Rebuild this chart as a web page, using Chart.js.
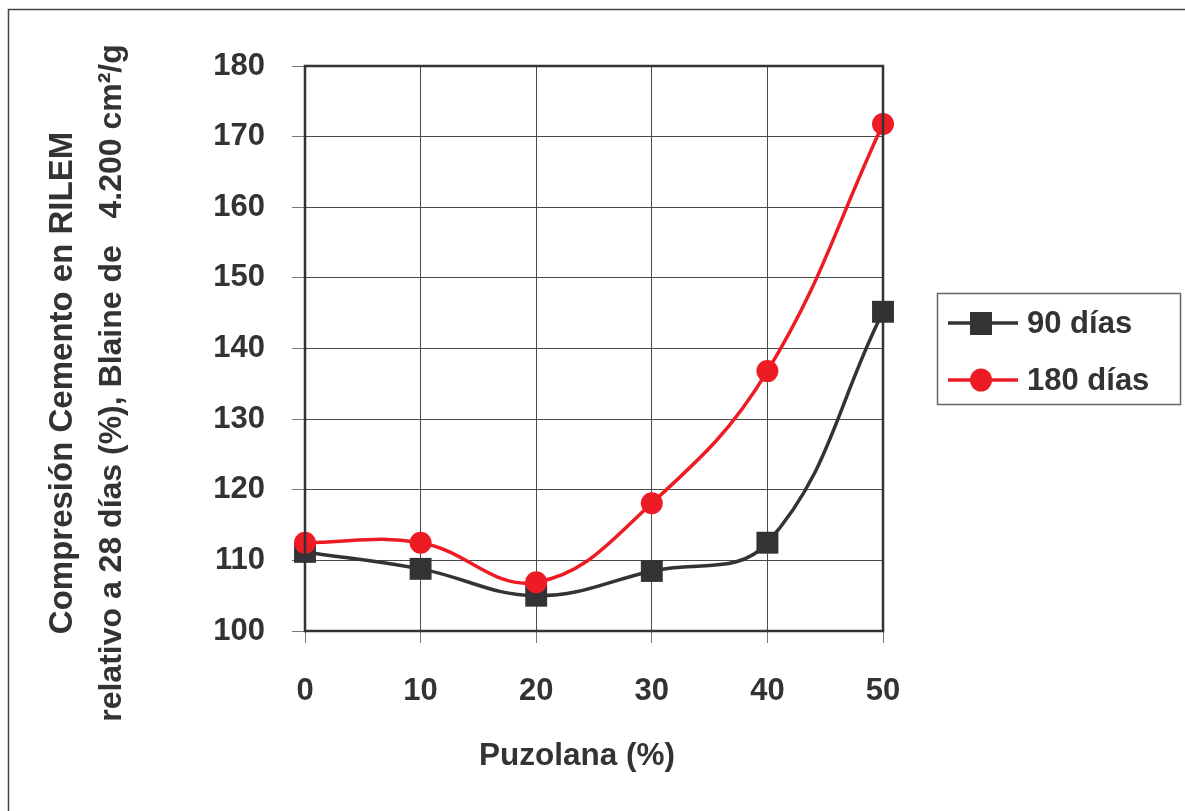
<!DOCTYPE html>
<html>
<head>
<meta charset="utf-8">
<script src="https://cdn.jsdelivr.net/npm/chart.js@4.4.1/dist/chart.umd.min.js"></script>
<style>
html,body{margin:0;padding:0;background:#fff;}
#wrap{width:1185px;height:811px;position:relative;}
</style>
</head>
<body>
<div id="wrap"><canvas id="c" width="1185" height="811"></canvas></div>
<script>
// ---- data ----
const puzolana = [0, 10, 20, 30, 40, 50];
const dias90 = [111.2, 108.8, 105.0, 108.5, 112.5, 145.2];
const dias180 = [112.5, 112.5, 106.9, 118.1, 136.8, 171.8];
const seriesLabels = ['90 días', '180 días'];
const xTicks = [0, 10, 20, 30, 40, 50];
const yTicks = [100, 110, 120, 130, 140, 150, 160, 170, 180];
const yTitleLines = ['Compresión Cemento en RILEM', 'relativo a 28 días (%), Blaine de   4.200 cm²/g'];
const xTitle = 'Puzolana (%)';

const FONT = '"Liberation Sans", Arial, Helvetica, sans-serif';
const TXT = '#333336';
const C90 = '#333336';
const C180 = '#ed1c24';

const toPts = (xs, ys) => xs.map((x, i) => ({x: x, y: ys[i]}));

const decor = {
  id: 'decor',
  beforeDraw(chart) {
    const ctx = chart.ctx;
    ctx.save();
    ctx.fillStyle = '#fff';
    ctx.fillRect(0, 0, chart.width, chart.height);
    ctx.strokeStyle = '#444';
    ctx.lineWidth = 1.5;
    ctx.strokeRect(8.5, 9.5, chart.width + 20, chart.height + 20);
    ctx.restore();
  },
  afterDraw(chart) {
    const ctx = chart.ctx;
    const a = chart.chartArea;
    ctx.save();
    // plot border
    ctx.strokeStyle = '#333336';
    ctx.lineWidth = 2.5;
    ctx.strokeRect(a.left, a.top, a.right - a.left, a.bottom - a.top);
    // y title
    ctx.fillStyle = TXT;
    ctx.textAlign = 'center';
    ctx.textBaseline = 'alphabetic';
    ctx.translate(0, 383);
    ctx.rotate(-Math.PI / 2);
    ctx.font = 'bold 33px ' + FONT;
    ctx.fillText(yTitleLines[0], 0, 72);
    ctx.font = 'bold 32px ' + FONT;
    ctx.fillText(yTitleLines[1], 0, 121);
    ctx.restore();
    // x title
    ctx.save();
    ctx.fillStyle = TXT;
    ctx.font = 'bold 31.5px ' + FONT;
    ctx.textAlign = 'center';
    ctx.textBaseline = 'alphabetic';
    ctx.fillText(xTitle, 577, 765);
    ctx.restore();
    // legend
    ctx.save();
    ctx.strokeStyle = '#666';
    ctx.lineWidth = 1.5;
    ctx.strokeRect(937.5, 293.5, 243, 111);
    const rows = [323, 380];
    chart.data.datasets.forEach((ds, i) => {
      const y = rows[i];
      ctx.strokeStyle = ds.borderColor;
      ctx.lineWidth = ds.borderWidth;
      ctx.beginPath();
      ctx.moveTo(948, y);
      ctx.lineTo(1018, y);
      ctx.stroke();
      ctx.fillStyle = ds.pointBackgroundColor;
      if (ds.pointStyle === 'rect') {
        ctx.fillRect(981 - 11, y - 11, 22, 23);
      } else {
        ctx.beginPath();
        ctx.ellipse(981, y, 11, 11.5, 0, 0, Math.PI * 2);
        ctx.fill();
      }
      ctx.fillStyle = TXT;
      ctx.font = 'bold 31px ' + FONT;
      ctx.textAlign = 'left';
      ctx.textBaseline = 'middle';
      ctx.fillText(ds.label, 1027, y + 1);
    });
    ctx.restore();
  }
};

new Chart(document.getElementById('c'), {
  type: 'line',
  data: {
    datasets: [
      {
        label: seriesLabels[0],
        data: toPts(puzolana, dias90),
        borderColor: C90,
        backgroundColor: C90,
        pointBackgroundColor: C90,
        pointBorderColor: C90,
        borderWidth: 3.5,
        pointStyle: 'rect',
        pointRadius: 15.5,
        pointBorderWidth: 0,
        tension: 0.4,
        order: 1
      },
      {
        label: seriesLabels[1],
        data: toPts(puzolana, dias180),
        borderColor: C180,
        backgroundColor: C180,
        pointBackgroundColor: C180,
        pointBorderColor: C180,
        borderWidth: 3.5,
        pointStyle: 'circle',
        pointRadius: 11,
        pointBorderWidth: 0,
        tension: 0.4,
        order: 0
      }
    ]
  },
  options: {
    responsive: false,
    animation: false,
    devicePixelRatio: 1,
    clip: false,
    layout: {padding: {top: 66, right: 302, left: 0, bottom: 0}},
    plugins: {legend: {display: false}, tooltip: {enabled: false}, title: {display: false}},
    scales: {
      x: {
        type: 'linear',
        min: 0, max: 50,
        afterFit(s) { s.height = 180; },
        afterBuildTicks(s) { s.ticks = xTicks.map(v => ({value: v})); },
        grid: {color: '#4a4a4a', lineWidth: 1, tickLength: 12, tickColor: '#777', drawTicks: true},
        border: {display: false},
        ticks: {color: TXT, font: {family: FONT, size: 31, weight: 'bold'}, padding: 30, maxRotation: 0}
      },
      y: {
        min: 100, max: 180,
        afterFit(s) { s.width = 305; },
        afterBuildTicks(s) { s.ticks = yTicks.map(v => ({value: v})); },
        grid: {color: '#4a4a4a', lineWidth: 1, tickLength: 13, tickColor: '#777', drawTicks: true},
        border: {display: false},
        ticks: {color: TXT, font: {family: FONT, size: 31, weight: 'bold'}, padding: 27}
      }
    }
  },
  plugins: [decor]
});
</script>
</body>
</html>
